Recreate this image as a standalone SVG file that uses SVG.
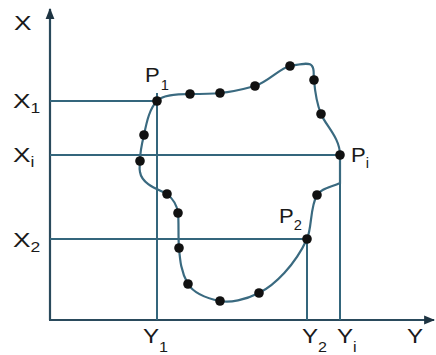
<svg xmlns="http://www.w3.org/2000/svg" width="436" height="355" viewBox="0 0 436 355">
<defs>
<style>
.ax{stroke:#2a4a5c;stroke-width:2.2;fill:none}
.gl{stroke:#34667c;stroke-width:2;fill:none}
.cv{stroke:#3a6a80;stroke-width:2.2;fill:none}
.dot{fill:#111}
.t{font-family:"Liberation Sans",Arial,sans-serif;font-size:21px;fill:#1a1a1a}
.s{font-size:14px}
</style>
<marker id="arr" viewBox="0 0 10 10" refX="9" refY="5" markerWidth="5" markerHeight="5" orient="auto">
<path d="M0,1 L10,5 L0,9 Z" fill="#1e3442"/>
</marker>
</defs>
<rect width="436" height="355" fill="#fff"/>
<g id="connectors">
<line class="ax" x1="50" y1="320" x2="50" y2="9" marker-end="url(#arr)"/>
<line class="ax" x1="49" y1="320" x2="434" y2="320" marker-end="url(#arr)"/>
<line class="gl" x1="50" y1="101" x2="157" y2="101" stroke="#5d93a8"/>
<line class="gl" x1="50" y1="155" x2="340" y2="155"/>
<line class="gl" x1="50" y1="239" x2="307" y2="239"/>
<line class="gl" x1="157" y1="93" x2="157" y2="320"/>
<line class="gl" x1="307" y1="239" x2="307" y2="320"/>
<line class="gl" x1="340" y1="155" x2="340" y2="320"/>
</g>
<g id="curve">
<path class="cv" d="M157,101 C163,95 175,94 190,94 C200,94 210,94 220,93 C232,92 244,89 255,86 C268,82 280,68 290,66 C300,64 310,62 312,66 C315,70 313,75 314,80 C315,92 317,104 321,114 C326,126 340,138 340,155 C340,165 340,175 340,183 C332,187 321,188 317,195 C310,207 312,228 307,239 C295,265 275,285 259,293 C245,300 230,303 220,301 C205,298 193,292 188,284 C181,272 180,260 179,248 C178,236 179,222 178,213 C177,205 172,198 167,194 C160,190 142,185 140,172 C139,168 140,164 140,161 C140,152 142,143 144,135 C147,120 150,108 157,101 Z"/>
<g class="dot">
<circle cx="157" cy="101" r="4.8"/>
<circle cx="190" cy="94" r="4.8"/>
<circle cx="220" cy="93" r="4.8"/>
<circle cx="255" cy="86" r="4.8"/>
<circle cx="290" cy="66" r="4.8"/>
<circle cx="314" cy="80" r="4.8"/>
<circle cx="321" cy="114" r="4.8"/>
<circle cx="340" cy="155" r="4.8"/>
<circle cx="317" cy="195" r="4.8"/>
<circle cx="307" cy="239" r="4.8"/>
<circle cx="259" cy="293" r="4.8"/>
<circle cx="220" cy="301" r="4.8"/>
<circle cx="188" cy="284" r="4.8"/>
<circle cx="179" cy="248" r="4.8"/>
<circle cx="178" cy="213" r="4.8"/>
<circle cx="167" cy="194" r="4.8"/>
<circle cx="140" cy="161" r="4.8"/>
<circle cx="144" cy="135" r="4.8"/>
</g>
</g>
<g id="labels">
<text class="t" transform="translate(14,30) scale(1.25,1)">X</text>
<text class="t" transform="translate(13,108) scale(1.25,1)">X<tspan class="s" dy="5">1</tspan></text>
<text class="t" transform="translate(13,162) scale(1.25,1)">X<tspan class="s" dy="5">i</tspan></text>
<text class="t" transform="translate(13,247) scale(1.25,1)">X<tspan class="s" dy="5">2</tspan></text>
<text class="t" transform="translate(143,343) scale(1.15,1)">Y<tspan class="s" dy="9">1</tspan></text>
<text class="t" transform="translate(302,343) scale(1.15,1)">Y<tspan class="s" dy="9">2</tspan></text>
<text class="t" transform="translate(337,343) scale(1.15,1)">Y<tspan class="s" dy="9">i</tspan></text>
<text class="t" transform="translate(407,343) scale(1.15,1)">Y</text>
<text class="t" transform="translate(145,82) scale(1.05,1)">P<tspan class="s" dy="8" dx="1">1</tspan></text>
<text class="t" transform="translate(351,162) scale(1.05,1)">P<tspan class="s" dy="6">i</tspan></text>
<text class="t" transform="translate(279,223) scale(1.05,1)">P<tspan class="s" dy="7">2</tspan></text>
</g>
</svg>
